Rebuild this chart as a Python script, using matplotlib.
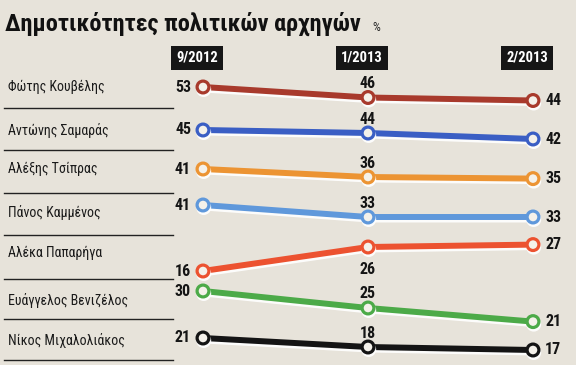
import matplotlib.pyplot as plt
import matplotlib.patheffects as pe

# data
title = "Δημοτικότητες πολιτικών αρχηγών"
periods = ["9/2012", "1/2013", "2/2013"]
leaders = ["Φώτης Κουβέλης", "Αντώνης Σαμαράς", "Αλέξης Τσίπρας", "Πάνος Καμμένος",
           "Αλέκα Παπαρήγα", "Ευάγγελος Βενιζέλος", "Νίκος Μιχαλολιάκος"]
kouvelis = [53, 46, 44]
samaras = [45, 44, 42]
tsipras = [41, 36, 35]
kammenos = [41, 33, 33]
papariga = [16, 26, 27]
venizelos = [30, 25, 21]
michaloliakos = [21, 18, 17]
series = [kouvelis, samaras, tsipras, kammenos, papariga, venizelos, michaloliakos]
colors = ["#a83a2c", "#3a5ec4", "#ec9433", "#5f98db", "#ec5230", "#4caa48", "#141414"]

# layout (pixel space, y pointing down)
col_x = [203, 368, 533]
row_start = [87, 130, 169, 205, 271, 291, 338]
row_scale = [1.5, 3.0, 1.6, 1.5, 2.4, 3.4, 3.0]
name_y = [87, 130, 169, 212, 253, 300, 340]
sep_y = [108, 150, 193, 235, 279, 319, 360]
mid_off = [-14, -14, -14, -14, 22, -14, -14]

bg = "#e7e3da"
fig = plt.figure(figsize=(5.76, 3.65), dpi=100, facecolor=bg)
ax = fig.add_axes([0, 0, 1, 1])
ax.set_facecolor(bg)
ax.set_xlim(0, 576)
ax.set_ylim(365, 0)
ax.axis("off")

cond = ["Roboto Condensed", "DejaVu Sans"]

t = ax.text(5, 31, title, fontsize=17.5, fontweight="bold", family=cond, va="baseline", color="#111111")
fig.canvas.draw()
bb = t.get_window_extent().transformed(ax.transData.inverted())
ax.text(bb.x1 + 12, 31, "%", fontsize=9, family=cond, va="baseline", color="#222222")

for x, p in zip(col_x, periods):
    ax.text(x - 6, 58, p, fontsize=10.5, fontweight="bold", color="white", family=cond,
            ha="center", va="center",
            bbox=dict(boxstyle="square,pad=0.35", fc="#161616", ec="none"))

for name, y in zip(leaders, name_y):
    ax.text(8, y, name, fontsize=10, family=cond, va="center", color="#1a1a1a")
for y in sep_y:
    ax.plot([4, 173], [y, y], color="#222222", lw=1)

shadow = [pe.SimpleLineShadow(offset=(0.5, -1.8), shadow_color="white", alpha=0.9), pe.Normal()]
for i, vals in enumerate(series):
    ys = [row_start[i] - row_scale[i] * (v - vals[0]) for v in vals]
    ax.plot(col_x, ys, color=colors[i], lw=4.3, solid_capstyle="round",
            marker="o", ms=8.5, mfc="#f4f1ea", mec=colors[i], mew=2.3,
            path_effects=shadow, zorder=3)
    kw = dict(fontsize=11.5, fontweight="bold", family=cond, color="#151515", va="center")
    ax.text(col_x[0] - 12, ys[0], str(vals[0]), ha="right", **kw)
    ax.text(col_x[1], ys[1] + mid_off[i], str(vals[1]), ha="center", **kw)
    ax.text(col_x[2] + 12, ys[2], str(vals[2]), ha="left", **kw)

fig.savefig("out.png", dpi=100, facecolor=bg)
